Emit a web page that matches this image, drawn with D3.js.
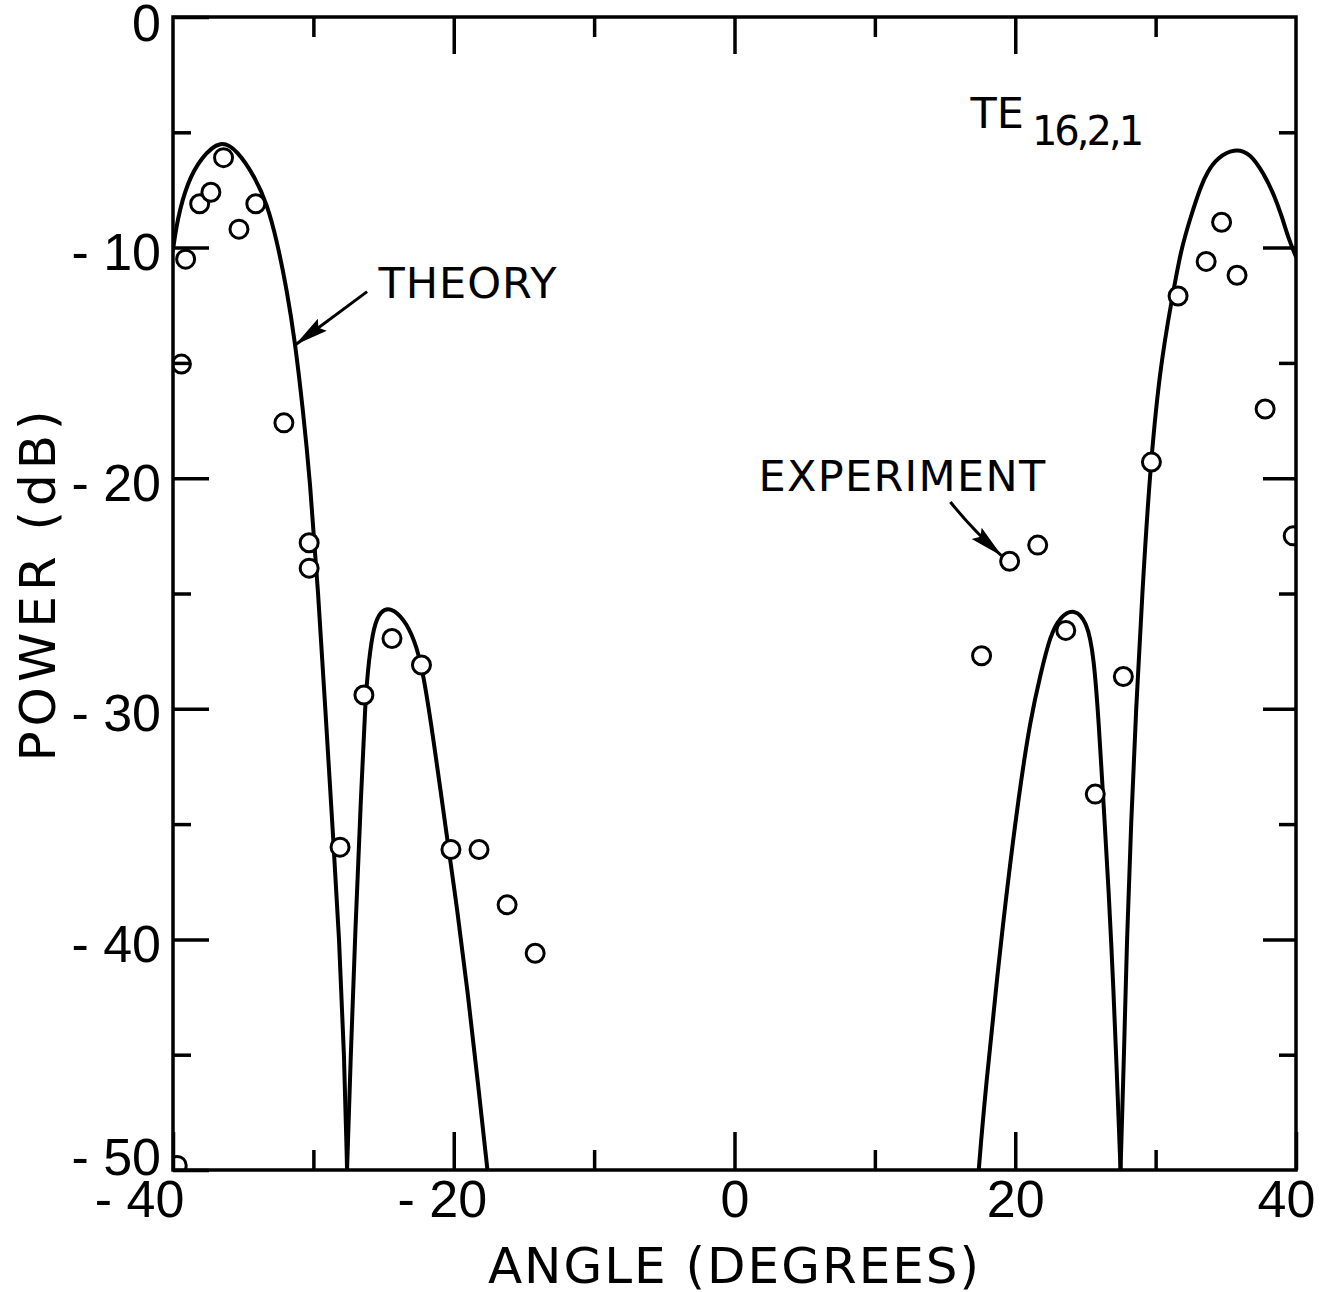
<!DOCTYPE html>
<html>
<head>
<meta charset="utf-8">
<script src="https://cdn.jsdelivr.net/npm/d3@7"></script>
<style>
  html, body { margin: 0; background: #fff; }
  svg { display: block; }
</style>
</head>
<body>
<svg id="chart" width="1333" height="1292"></svg>
<script>
// Far-field radiation pattern of the TE16,2,1 mode: computed curve vs. measured points.

const angleDomain = [-40, 40];
const powerDomain = [-50, 0];

const xTicksMajor = [-40, -20, 0, 20, 40];
const xTicksMinor = [-30, -10, 10, 30];
const yTicksMajor = [0, -10, -20, -30, -40, -50];
const yTicksMinor = [-5, -15, -25, -35, -45];

// Theory curve, one array per lobe (angle in degrees, power in dB)
const theoryMainLobeLeft = [
  [-40.0, -10.1], [-39.7, -8.8], [-39.0, -7.2], [-38.0, -6.1], [-36.6, -5.3],
  [-35.4, -5.8], [-34.2, -6.9], [-33.3, -8.1], [-32.6, -9.7], [-31.9, -11.8],
  [-31.3, -14.1], [-30.75, -17.0], [-30.25, -20.0], [-29.65, -25.0], [-29.15, -30.0],
  [-28.65, -35.0], [-28.15, -40.0], [-27.8, -45.0], [-27.6, -50]
];
const theorySideLobeLeft = [
  [-27.6, -50], [-27.35, -45.2], [-27.0, -39.4], [-26.6, -33.7], [-26.3, -29.6],
  [-26.05, -27.9], [-25.7, -26.4], [-25.2, -25.75], [-24.5, -25.6], [-23.55, -26.1],
  [-22.8, -27.0], [-22.2, -28.3], [-21.4, -31.5], [-20.5, -35.5], [-19.75, -38.7],
  [-19.0, -42.3], [-18.3, -46.1], [-17.6, -50]
];
const theorySideLobeRight = [
  [17.4, -50], [17.8, -47.0], [19.1, -39.3], [20.3, -33.5], [21.1, -30.4],
  [21.8, -28.5], [22.5, -26.8], [23.2, -26.0], [24.2, -25.65], [25.1, -26.2],
  [25.6, -27.7], [25.95, -30.6], [26.3, -34.2], [26.66, -37.9], [27.0, -42.2],
  [27.25, -46.0], [27.5, -50]
];
const theoryMainLobeRight = [
  [27.5, -50], [27.75, -45.0], [27.95, -40.0], [28.25, -35.0], [28.6, -30.0],
  [29.05, -25.0], [29.55, -20.0], [30.3, -15.2], [31.2, -12.1], [31.8, -10.1],
  [32.5, -8.66], [33.2, -7.36], [33.7, -6.7], [34.4, -6.1], [35.6, -5.7],
  [36.75, -5.9], [37.7, -6.8], [38.4, -7.65], [39.0, -8.66], [39.5, -9.67],
  [40.0, -10.4]
];

// Measured points
const expAngle = [
  -39.1, -38.1, -37.3, -36.4, -35.3, -34.1, -39.4, -32.1, -30.3, -30.3,
  -28.1, -26.4, -24.4, -22.3, -20.2, -18.2, -16.2, -14.2, -39.7,
  17.6, 19.6, 21.6, 23.6, 25.7, 27.7, 29.7, 31.6, 33.6, 34.7, 35.8, 37.8, 39.8
];
const expPower = [
  -10.5, -8.1, -7.6, -6.1, -9.2, -8.1, -15.05, -17.6, -22.8, -23.9,
  -36.0, -29.4, -26.95, -28.1, -36.1, -36.1, -38.5, -40.6, -49.8,
  -27.7, -23.6, -22.9, -26.6, -33.7, -28.6, -19.3, -12.1, -10.6, -8.9, -11.2, -17.0, -22.5
];

const FONT = "'DejaVu Sans', 'Liberation Sans', sans-serif";
const TICK_FONT = "'Liberation Sans', 'DejaVu Sans', sans-serif";
const INK = "#000";

const svg = d3.select("#chart");
svg.append("rect").attr("width", 1333).attr("height", 1292).attr("fill", "#fff");

const plot = { left: 173, right: 1296, top: 17, bottom: 1170 };
const x = d3.scaleLinear().domain(angleDomain).range([plot.left, plot.right]);
const y = d3.scaleLinear().domain(powerDomain).range([plot.bottom, plot.top]);

const defs = svg.append("defs");
defs.append("clipPath").attr("id", "plot-clip")
  .append("rect")
  .attr("x", plot.left).attr("y", plot.top)
  .attr("width", plot.right - plot.left).attr("height", plot.bottom - plot.top);

defs.append("marker")
  .attr("id", "arrowhead")
  .attr("markerUnits", "userSpaceOnUse")
  .attr("viewBox", "0 0 34 18")
  .attr("refX", 33).attr("refY", 9)
  .attr("markerWidth", 34).attr("markerHeight", 18)
  .attr("orient", "auto")
  .append("path")
  .attr("d", "M0,1.5 L34,9 L0,16.5 L5,9 Z")
  .attr("fill", INK);

// ---- theory curve ----
const line = d3.line()
  .x(d => x(d[0]))
  .y(d => y(d[1]))
  .curve(d3.curveBasis);

const curves = svg.append("g").attr("clip-path", "url(#plot-clip)");
[theoryMainLobeLeft, theorySideLobeLeft, theorySideLobeRight, theoryMainLobeRight].forEach(seg => {
  curves.append("path")
    .attr("d", line(seg))
    .attr("fill", "none")
    .attr("stroke", INK)
    .attr("stroke-width", 4)
    .attr("stroke-linejoin", "round")
    .attr("stroke-linecap", "round");
});

// ---- measured points ----
svg.append("g").attr("clip-path", "url(#plot-clip)")
  .selectAll("circle")
  .data(expAngle.map((a, i) => ({ angle: a, power: expPower[i] })))
  .join("circle")
  .attr("cx", d => x(d.angle))
  .attr("cy", d => y(d.power))
  .attr("r", 9)
  .attr("fill", "#fff")
  .attr("stroke", INK)
  .attr("stroke-width", 3);

// ---- axes (ticks point inward) ----
function styleAxis(g) {
  g.select(".domain").remove();
  g.selectAll(".tick line").attr("stroke", INK).attr("stroke-width", 3.5);
  g.selectAll(".tick text")
    .attr("fill", INK)
    .style("font-family", TICK_FONT)
    .style("font-size", "52px");
}
const fmt = d => d === 0 ? "0" : (d < 0 ? "- " + Math.abs(d) : String(d));

// left
svg.append("g").attr("transform", `translate(${plot.left},0)`)
  .call(d3.axisLeft(y).tickValues(yTicksMajor).tickSize(-36).tickPadding(12).tickFormat(fmt))
  .call(styleAxis)
  .selectAll(".tick text")
  .attr("dy", d => d === powerDomain[0] ? "0.08em" : (d === powerDomain[1] ? "0.46em" : "0.42em"));
svg.append("g").attr("transform", `translate(${plot.left},0)`)
  .call(d3.axisLeft(y).tickValues(yTicksMinor).tickSize(-18).tickFormat(""))
  .call(styleAxis);

// right
svg.append("g").attr("transform", `translate(${plot.right},0)`)
  .call(d3.axisRight(y).tickValues(yTicksMajor.slice(1, -1)).tickSize(-33).tickFormat(""))
  .call(styleAxis);
svg.append("g").attr("transform", `translate(${plot.right},0)`)
  .call(d3.axisRight(y).tickValues(yTicksMinor).tickSize(-17).tickFormat(""))
  .call(styleAxis);

// bottom
const bottomAxis = svg.append("g").attr("transform", `translate(0,${plot.bottom})`)
  .call(d3.axisBottom(x).tickValues(xTicksMajor).tickSize(-38).tickPadding(10).tickFormat(fmt))
  .call(styleAxis);
bottomAxis.selectAll(".tick text").attr("dx", d => {
  let dx = d < 0 ? -12 : 0;
  if (d === angleDomain[0]) dx -= 22;
  if (d === angleDomain[1]) dx -= 10;
  return dx;
});
svg.append("g").attr("transform", `translate(0,${plot.bottom})`)
  .call(d3.axisBottom(x).tickValues(xTicksMinor).tickSize(-20).tickFormat(""))
  .call(styleAxis);

// top
svg.append("g").attr("transform", `translate(0,${plot.top})`)
  .call(d3.axisTop(x).tickValues(xTicksMajor.slice(1, -1)).tickSize(-37).tickFormat(""))
  .call(styleAxis);
svg.append("g").attr("transform", `translate(0,${plot.top})`)
  .call(d3.axisTop(x).tickValues(xTicksMinor).tickSize(-20).tickFormat(""))
  .call(styleAxis);

// frame
svg.append("rect")
  .attr("x", plot.left).attr("y", plot.top)
  .attr("width", plot.right - plot.left).attr("height", plot.bottom - plot.top)
  .attr("fill", "none").attr("stroke", INK).attr("stroke-width", 3.5);

// ---- axis titles ----
svg.append("text")
  .attr("x", x(0)).attr("y", 1283)
  .attr("text-anchor", "middle")
  .style("font-family", FONT).style("font-size", "50px").style("letter-spacing", "2px")
  .attr("fill", INK)
  .text("ANGLE (DEGREES)");

svg.append("text")
  .attr("transform", `translate(55,${y(-25) - 10}) rotate(-90)`)
  .attr("text-anchor", "middle")
  .style("font-family", FONT).style("font-size", "50px").style("letter-spacing", "5px")
  .attr("fill", INK)
  .text("POWER (dB)");

// ---- annotations ----
svg.append("text")
  .attr("x", x(-25.36)).attr("y", y(-12.19))
  .style("font-family", FONT).style("font-size", "43px").style("letter-spacing", "1px")
  .attr("fill", INK)
  .text("THEORY");
svg.append("line")
  .attr("x1", x(-26.17)).attr("y1", y(-11.91))
  .attr("x2", x(-31.25)).attr("y2", y(-14.2))
  .attr("stroke", INK).attr("stroke-width", 3)
  .attr("marker-end", "url(#arrowhead)");

svg.append("text")
  .attr("x", x(1.71)).attr("y", y(-20.56))
  .style("font-family", FONT).style("font-size", "43px").style("letter-spacing", "1.3px")
  .attr("fill", INK)
  .text("EXPERIMENT");
svg.append("path")
  .attr("d", `M${x(15.38)},${y(-21.03)} Q${x(16.9)},${y(-22.2)} ${x(19.0)},${y(-23.35)}`)
  .attr("fill", "none")
  .attr("stroke", INK).attr("stroke-width", 3)
  .attr("marker-end", "url(#arrowhead)");

const modeLabel = svg.append("text")
  .attr("x", x(16.81)).attr("y", y(-4.81))
  .style("font-family", FONT).style("font-size", "43px")
  .attr("fill", INK);
modeLabel.append("tspan").text("TE");
modeLabel.append("tspan")
  .attr("dx", 8).attr("dy", 17)
  .style("font-size", "40px").style("letter-spacing", "-3px")
  .text("16,2,1");
</script>
</body>
</html>
